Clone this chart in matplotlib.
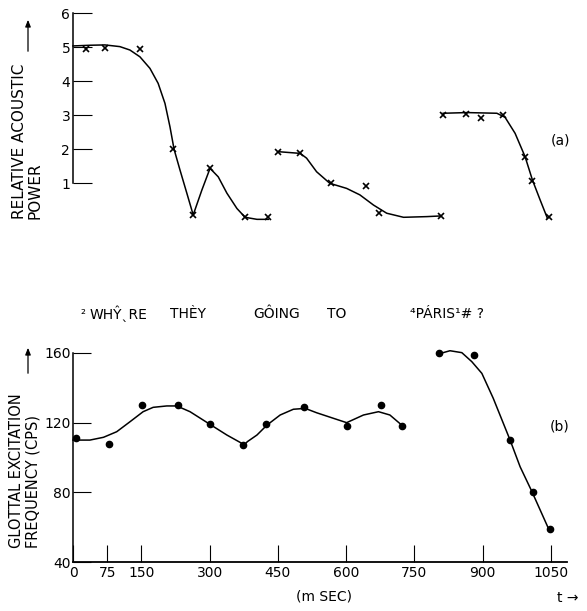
import matplotlib
matplotlib.use("Agg")
import matplotlib.pyplot as plt

plt.rcParams['font.family'] = ['DejaVu Sans']

# (a) relative acoustic power: measured points (x marks)
pow_ms_1 = [29, 71, 147, 220, 264, 300, 378, 428]
pow_val_1 = [4.95, 4.97, 4.94, 2.0, 0.08, 1.45, 0.0, 0.0]
pow_ms_2 = [451, 499, 566, 643, 672, 809]
pow_val_2 = [1.93, 1.88, 1.0, 0.92, 0.12, 0.05]
pow_ms_3 = [813, 863, 897, 944, 993, 1009, 1045]
pow_val_3 = [3.0, 3.05, 2.93, 3.0, 1.78, 1.07, 0.0]

# (a) hand-drawn curves
pow_curve_ms_1 = [0, 37, 70, 103, 125, 147, 169, 187, 202, 213, 222, 235, 250, 264,
                  283, 301, 319, 338, 360, 378, 404, 429]
pow_curve_1 = [5.04, 5.06, 5.07, 5.02, 4.92, 4.72, 4.38, 3.94, 3.35, 2.66, 2.0, 1.39,
               0.71, 0.07, 0.80, 1.44, 1.19, 0.71, 0.26, 0.0, -0.06, -0.06]
pow_curve_ms_2 = [451, 499, 513, 535, 564, 601, 630, 660, 689, 726, 777, 808]
pow_curve_2 = [1.93, 1.88, 1.74, 1.34, 1.0, 0.85, 0.66, 0.36, 0.12, 0.0, 0.02, 0.04]
pow_curve_ms_3 = [813, 865, 931, 949, 971, 993, 1009, 1026, 1042]
pow_curve_3 = [3.06, 3.08, 3.06, 2.94, 2.47, 1.78, 1.10, 0.51, -0.03]

# (b) glottal excitation frequency: measured points (dots)
f0_ms_1 = [7, 79, 151, 230, 301, 374, 423, 508, 602, 676, 722]
f0_val_1 = [111, 108, 130, 130, 119, 107, 119, 129, 118, 130, 118]
f0_ms_2 = [804, 880, 960, 1010, 1047]
f0_val_2 = [160, 159, 110, 80, 59]

# (b) hand-drawn curves
f0_curve_ms_1 = [0, 37, 67, 96, 125, 154, 176, 206, 228, 257, 301, 338, 371, 376, 383,
                 404, 426, 455, 484, 510, 535, 572, 601, 638, 671, 696, 722]
f0_curve_1 = [110, 110, 111.6, 114.8, 120.5, 126.3, 128.8, 129.6, 129.6, 126.3, 119.0,
              112.9, 108.1, 107.2, 109.1, 112.9, 118.6, 124.4, 127.7, 128.2, 125.7,
              122.5, 120.0, 124.4, 126.3, 124.4, 118.6]
f0_curve_ms_2 = [802, 828, 854, 876, 898, 923, 960, 982, 1008, 1026, 1044]
f0_curve_2 = [159.4, 161.3, 160.2, 155.0, 148.3, 134.0, 110.0, 94.7, 80.4, 69.9, 59.4]

x_ticks = [0, 75, 150, 300, 450, 600, 750, 900, 1050]
pow_ticks = [1, 2, 3, 4, 5, 6]
f0_ticks = [40, 80, 120, 160]

words = [(80, "²"), (90, "WHŶˎRE"), (170, "THÈY"), (253, "GÔING"), (327, "TO"),
         (410, "⁴PÁRIS¹# ?")]

W, H = 587, 611
fig = plt.figure(figsize=(W / 100, H / 100), dpi=100)


def fx(px):
    return px / W


def fy(py):
    return 1 - py / H


ax_left = fx(73)
ax_w = fx(567) - fx(73)

ax1 = fig.add_axes([ax_left, fy(217.3), ax_w, fy(13.3) - fy(217.3)])
ax2 = fig.add_axes([ax_left, fy(562), ax_w, fy(353) - fy(562)])

line_kw = dict(color='black', lw=1.1, clip_on=False)

for xs, ys in [(pow_curve_ms_1, pow_curve_1), (pow_curve_ms_2, pow_curve_2),
               (pow_curve_ms_3, pow_curve_3)]:
    ax1.plot(xs, ys, **line_kw)
for xs, ys in [(pow_ms_1, pow_val_1), (pow_ms_2, pow_val_2), (pow_ms_3, pow_val_3)]:
    ax1.plot(xs, ys, ls='none', marker='x', ms=5, mew=1.2, color='black', clip_on=False)

for xs, ys in [(f0_curve_ms_1, f0_curve_1), (f0_curve_ms_2, f0_curve_2)]:
    ax2.plot(xs, ys, **line_kw)
for xs, ys in [(f0_ms_1, f0_val_1), (f0_ms_2, f0_val_2)]:
    ax2.plot(xs, ys, ls='none', marker='o', ms=4.5, color='black', clip_on=False)

for ax in (ax1, ax2):
    ax.set_xlim(0, 1085)
    ax.spines['top'].set_visible(False)
    ax.spines['right'].set_visible(False)
    ax.spines['left'].set_linewidth(1.1)
    ax.spines['bottom'].set_linewidth(1.3)
    ax.tick_params(direction='in', width=0.8, labelsize=10)

ax1.set_ylim(0, 6)
ax1.spines['bottom'].set_visible(False)
ax1.spines['left'].set_bounds(1, 6)
ax1.set_xticks([])
ax1.set_yticks(pow_ticks)
ax1.tick_params(axis='y', length=13.5, pad=2)

ax2.set_ylim(40, 160)
ax2.set_xticks(x_ticks)
ax2.set_yticks(f0_ticks)
ax2.tick_params(axis='y', length=13, pad=1.5)
ax2.tick_params(axis='x', length=12.5, pad=3)

# axis titles with arrows
fig.text(fx(20), fy(219), "RELATIVE ACOUSTIC", rotation=90, ha='center', va='bottom',
         fontsize=11)
fig.text(fx(35), fy(219), "POWER", rotation=90, ha='center', va='bottom', fontsize=11)
fig.text(fx(17), fy(548), "GLOTTAL EXCITATION", rotation=90, ha='center', va='bottom',
         fontsize=10.5)
fig.text(fx(33), fy(548), "FREQUENCY (CPS)", rotation=90, ha='center', va='bottom',
         fontsize=10.5)
for y0, y1 in [(54, 17), (376, 345)]:
    fig.add_artist(matplotlib.patches.FancyArrowPatch(
        (fx(28), fy(y0)), (fx(28), fy(y1)), transform=fig.transFigure,
        arrowstyle='-|>,head_length=4,head_width=1.6', color='black', lw=0.9))

fig.text(fx(560), fy(140), "(a)", ha='center', va='center', fontsize=10)
fig.text(fx(560), fy(426), "(b)", ha='center', va='center', fontsize=10)

for px, word in words:
    fs = 9 if word == "²" else 10
    fig.text(fx(px), fy(314), word, ha='left', va='center', fontsize=fs)

fig.text(fx(324), fy(597), "(m SEC)", ha='center', va='center', fontsize=10)
fig.text(fx(557), fy(598), "t →", ha='left', va='center', fontsize=10)

fig.savefig("out.png", dpi=100)
